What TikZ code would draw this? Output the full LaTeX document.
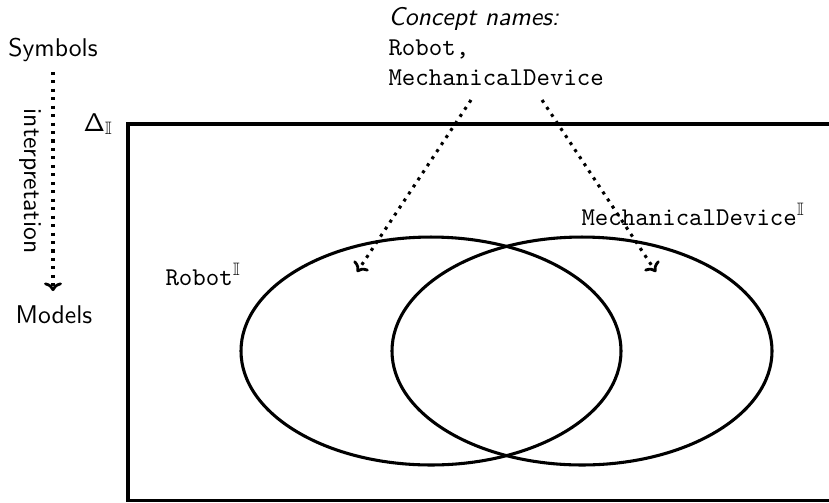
\documentclass[tikz,border=0pt]{standalone}
\usepackage{amssymb}
\usetikzlibrary{shapes.geometric,arrows.meta}
\begin{document}
\begin{tikzpicture}[x=0.39pt,y=-0.39pt,
  setline/.style={line width=1.2pt},
  dotarrow/.style={-{Computer Modern Rightarrow[length=3.4pt,width=7pt,line width=1.1pt]},
    line width=1.2pt, dash pattern=on 1.2pt off 2.1pt},
  sanslabel/.style={font=\sffamily, inner sep=0pt},
  monolabel/.style={font=\ttfamily, inner sep=0pt},
  setshape/.style={setline, draw, ellipse, inner sep=0pt,
    minimum width=148.2pt, minimum height=88.9pt},
]
\useasboundingbox (0,0) rectangle (829,502);
\clip (0,0) rectangle (829,502);

% symbols / models axis
\node[sanslabel, anchor=base] (sym) at (53,56) {Symbols};
\node[sanslabel, anchor=base] (mod) at (54,323) {Models};
\draw[dotarrow, shorten <=3.9pt, shorten >=5.3pt] (sym.south) -- (sym.south |- mod.north);
\node[sanslabel, rotate=-90] (interp) at (30,181) {interpretation};

% domain of the interpretation
\draw[setline] (870,124) -- (128,124) -- (128,500.5) -- (870,500.5);
\node[inner sep=0pt, anchor=base west] (delta) at (83,131) {$\mathsf{\Delta}_{\mathbb{I}}$};

% concept names
\node[sanslabel, font=\sffamily\itshape, anchor=base west] (cname) at (388,25) {Concept names:};
\node[monolabel, anchor=base west] (crobot) at (388,55) {Robot,};
\node[monolabel, anchor=base west] (cmech) at (388,85) {MechanicalDevice};

% extensions
\node[setshape] (robotset) at (431,351) {};
\node[setshape] (mechset) at (582,351) {};
\node[monolabel, anchor=base west] (robotlbl) at (165,285) {Robot$^{\mathbb{I}}$};
\node[monolabel, anchor=base west] (mechlbl) at (581,225) {MechanicalDevice$^{\mathbb{I}}$};

% interpretation arrows
\coordinate (srcL) at (471,100);
\coordinate (srcR) at (542,100);
\coordinate (dstL) at (357,272);
\coordinate (dstR) at (656,272);
\draw[dotarrow] (srcL) -- (dstL);
\draw[dotarrow] (srcR) -- (dstR);
\end{tikzpicture}
\end{document}
